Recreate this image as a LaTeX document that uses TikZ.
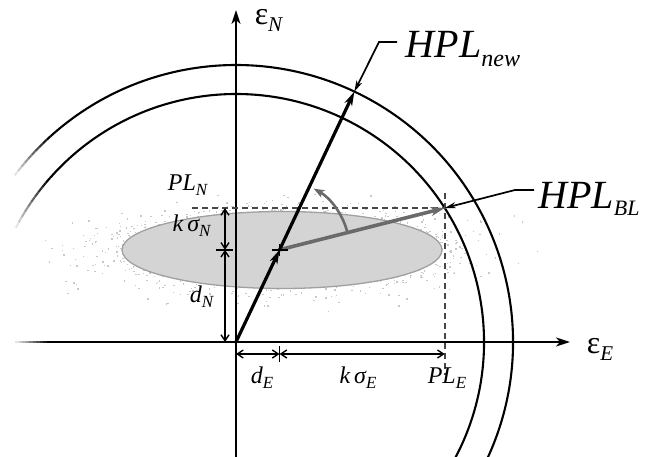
\documentclass[tikz,border=0pt]{standalone}
\usepackage{fontspec}
\setmainfont{Liberation Serif}
\usetikzlibrary{arrows.meta,calc}
\definecolor{ellfill}{HTML}{D4D4D4}
\definecolor{dotgray}{HTML}{C8C8C8}
\definecolor{ellline}{HTML}{A0A0A0}
\definecolor{blgray}{HTML}{6A6A6A}
\definecolor{dashgray}{HTML}{474747}
\newcommand{\Lab}[5]{{\fontsize{#1}{#1}\selectfont #2}\raisebox{-#5pt}{\fontsize{#3}{#3}\selectfont\textit{#4}}}
\begin{document}
\begin{tikzpicture}[x=1pt,y=1pt,
  axis/.style={line width=2pt,-{Stealth[length=14pt,width=9pt,inset=4pt]}},
  circ/.style={line width=2.1pt},
  dim/.style={line width=1.4pt,{Straight Barb[length=6pt,width=8pt]}-{Straight Barb[length=6pt,width=8pt]}},
  tickmark/.style={line width=1.8pt},
  hplnewline/.style={line width=3.2pt,-{Stealth[length=14pt,width=8pt,inset=4pt]}},
  hplblline/.style={line width=3.6pt,blgray,-{Stealth[length=14pt,width=9pt,inset=4pt]}},
  arcarrow/.style={line width=2.6pt,blgray,-{Stealth[length=11pt,width=8pt,inset=3pt]}},
  dashline/.style={line width=1.7pt,dashgray,dash pattern=on 6pt off 4pt},
  leader/.style={line width=1.7pt,-{Stealth[length=11pt,width=6pt,inset=3pt]}},
  lbl/.style={inner sep=0pt}]
\useasboundingbox (0,0) rectangle (647,457);
\clip (0,0) rectangle (647,457);
\coordinate (O) at (236,115);
\coordinate (C) at ($(O)+(64.7:102)$);
\coordinate (N) at ($(O)+(64.7:277)$);
\coordinate (B) at ($(O)+(32.7:248)$);
\coordinate (E) at (282,207);
% speckle cloud
\pgfmathsetseed{7}
\foreach \i in {1,...,4600}{
  \pgfmathsetmacro\ua{0.0005+0.9995*rnd}
  \pgfmathsetmacro\ub{360*rnd}
  \pgfmathsetmacro\rr{sqrt(-2*ln(\ua))}
  \fill[dotgray] ($(E)+({74*\rr*cos(\ub)},{17.5*\rr*sin(\ub)})$) rectangle ++(1.5,1.3);
}
\fill[ellfill] (E) ellipse [x radius=160,y radius=38.5];
\draw[ellline,line width=1.3pt] (E) ellipse [x radius=160,y radius=38.5];
% circles
\draw[circ] ($(O)+(-30:248)$) arc[start angle=-30,end angle=138.6,radius=248];
\foreach \i in {0,...,9}{
  \pgfmathtruncatemacro\c{100-10*\i}
  \draw[circ,black!\c] ($(O)+({138.6+1.4*\i}:248)$) arc[start angle={138.6+1.4*\i},end angle={138.6+1.4*(\i+1)},radius=248];
}
\draw[circ] ($(O)+(-30:277)$) arc[start angle=-30,end angle=132,radius=277];
\foreach \i in {0,...,9}{
  \pgfmathtruncatemacro\c{100-10*\i}
  \draw[circ,black!\c] ($(O)+({132+1.1*\i}:277)$) arc[start angle={132+1.1*\i},end angle={132+1.1*(\i+1)},radius=277];
}
% axes
\coordinate (xs) at (50,115);
\coordinate (xe) at (570,115);
\coordinate (ys) at (236,0);
\coordinate (ye) at (236,447);
\foreach \i in {0,...,9}{
  \pgfmathtruncatemacro\c{10*(\i+1)}
  \draw[line width=2pt,black!\c] ({15+3.5*\i},115) -- ({15+3.5*(\i+1)+0.3},115);
}
\draw[axis] (xs) -- (xe);
\draw[axis] (ys) -- (ye);
% dashed projection lines
\coordinate (dL) at (192,0);
\coordinate (dT) at ($(B)+(0,15)$);
\coordinate (dD) at ($(B)+(0,-167)$);
\draw[dashline] (dL |- B) -- (B);
\draw[dashline] (dT) -- (dD);
% dimensions
\coordinate (vx) at (225,0);
\coordinate (hy) at (0,103);
\draw[dim] (vx |- B) -- (vx |- C);
\draw[dim] (vx |- C) -- (vx |- O);
\draw[tickmark] ($(vx |- C)+(-9,0)$) -- ($(vx |- C)+(8,0)$);
\draw[dim] (O |- hy) -- (C |- hy);
\draw[dim] (C |- hy) -- (B |- hy);
\draw[tickmark] ($(C |- hy)+(0,-8)$) -- ($(C |- hy)+(0,8)$);
% vectors
\draw[hplblline] (C) -- (B);
\draw[hplnewline] (O) -- (C);
\draw[hplnewline] (C) -- (N);
\draw[line width=1.8pt] ($(C)+(-8,0)$) -- ($(C)+(8,0)$);
\draw[line width=1.8pt] ($(C)+(0,-6)$) -- ($(C)+(0,6)$);
\draw[arcarrow] ($(C)+(15:70)$) arc[start angle=15,end angle=61,radius=70];
% labels
\node[lbl] (epsN) at (269,437) {\Lab{32}{ε}{21}{N}{7}};
\node[lbl] (epsE) at (600,108) {\Lab{32}{ε}{21}{E}{7}};
\node[lbl] (hplnew) at (463,408) {\Lab{40}{\itshape HPL}{24}{new}{9}};
\node[lbl] (hplbl) at (589,258) {\Lab{40}{\itshape HPL}{22}{BL}{7}};
\node[lbl] (PLN) at (188,272) {\Lab{24}{\itshape PL}{17}{N}{5}};
\node[lbl] (ksN) at (192,231) {\Lab{24}{\itshape k\,σ}{17}{N}{5}};
\node[lbl] (dN) at (202,160) {\Lab{24}{\itshape d}{17}{N}{5}};
\node[lbl] (dE) at (262,79) {\Lab{24}{\itshape d}{17}{E}{5}};
\node[lbl] (ksE) at (358,79) {\Lab{24}{\itshape k\,σ}{17}{E}{5}};
\node[lbl] (PLE) at (447,79) {\Lab{24}{\itshape PL}{17}{E}{5}};
% leaders
\coordinate (l1a) at (397,415);
\coordinate (l1) at (379,415);
\coordinate (l2a) at (534,267);
\coordinate (l2) at (515,267);
\draw[leader] (l1a) -- (l1) -- (N);
\draw[leader] (l2a) -- (l2) -- (B);
\end{tikzpicture}
\end{document}
